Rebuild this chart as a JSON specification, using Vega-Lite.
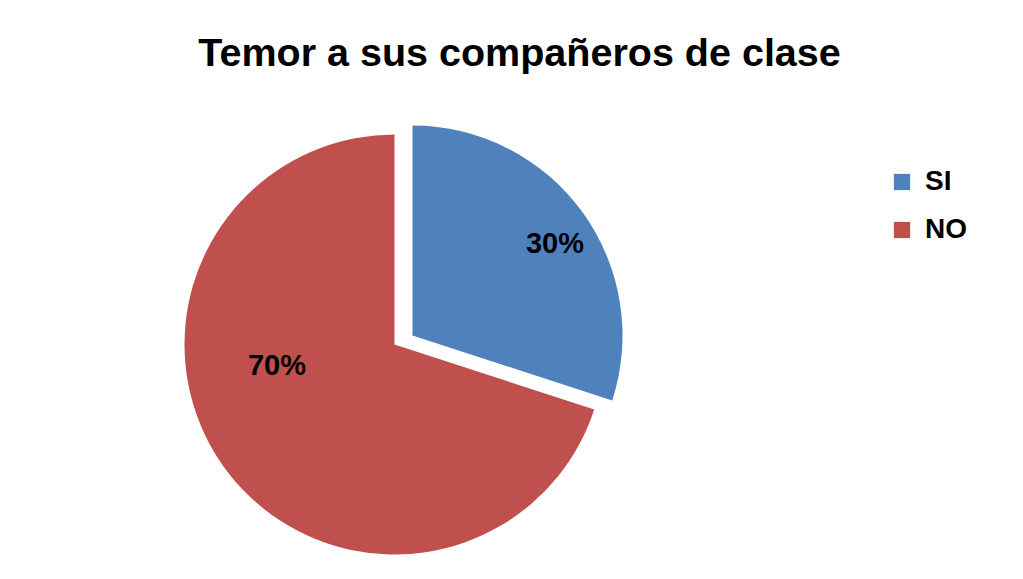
{
  "$schema": "https://vega.github.io/schema/vega-lite/v6.json",
  "autosize": {"type": "fit", "contains": "padding"},
  "width": 1023,
  "height": 579,
  "padding": {"left": 15, "right": 233, "top": 33, "bottom": 10},
  "background": "white",
  "title": {
    "text": "Temor a sus compañeros de clase",
    "font": "Liberation Sans",
    "fontSize": 39.5,
    "fontWeight": "bold",
    "color": "black",
    "anchor": "middle",
    "dx": 117,
    "offset": 36
  },
  "data": {
    "values": [
      {"categoria": "SI", "valor": 30, "etiqueta": "30%"},
      {"categoria": "NO", "valor": 70, "etiqueta": "70%"}
    ]
  },
  "layer": [
    {
      "transform": [
        {"stack": "valor", "groupby": [], "sort": [{"field": "valor", "order": "ascending"}], "as": ["v0", "v1"]},
        {"filter": "datum.categoria === 'SI'"}
      ],
      "mark": {"type": "arc", "outerRadius": 210, "xOffset": 10, "yOffset": -4},
      "encoding": {
        "theta": {"field": "v0", "type": "quantitative", "scale": {"domain": [0, 100]}},
        "theta2": {"field": "v1"},
        "color": {
          "field": "categoria",
          "type": "nominal",
          "scale": {"domain": ["SI", "NO"], "range": ["#4F81BD", "#C0504D"]},
          "legend": {
            "title": null,
            "orient": "none",
            "legendX": 873,
            "legendY": 58,
            "symbolType": "square",
            "symbolSize": 300,
            "symbolStrokeColor": "white",
            "symbolStrokeWidth": 1,
            "labelFont": "Liberation Sans",
            "labelFontSize": 28,
            "labelFontWeight": "bold",
            "labelColor": "black",
            "rowPadding": 20,
            "labelOffset": 9
          }
        }
      }
    },
    {
      "transform": [
        {"stack": "valor", "groupby": [], "sort": [{"field": "valor", "order": "ascending"}], "as": ["v0", "v1"]},
        {"filter": "datum.categoria === 'NO'"}
      ],
      "mark": {"type": "arc", "outerRadius": 210, "xOffset": -8, "yOffset": 5},
      "encoding": {
        "theta": {"field": "v0", "type": "quantitative", "scale": {"domain": [0, 100]}},
        "theta2": {"field": "v1"},
        "color": {"field": "categoria", "type": "nominal"}
      }
    },
    {
      "mark": {"type": "text", "radius": 165, "xOffset": 19, "yOffset": 1, "font": "Liberation Sans", "fontSize": 29, "fontWeight": "bold", "color": "black"},
      "encoding": {
        "theta": {"field": "valor", "type": "quantitative", "stack": true, "sort": "ascending"},
        "order": {"field": "valor", "type": "quantitative", "sort": "ascending"},
        "text": {"field": "etiqueta", "type": "nominal"},
        "opacity": {"condition": {"test": "datum.categoria === 'SI'", "value": 1}, "value": 0}
      }
    },
    {
      "mark": {"type": "text", "radius": 128, "xOffset": -22, "yOffset": -49, "font": "Liberation Sans", "fontSize": 29, "fontWeight": "bold", "color": "black"},
      "encoding": {
        "theta": {"field": "valor", "type": "quantitative", "stack": true, "sort": "ascending"},
        "order": {"field": "valor", "type": "quantitative", "sort": "ascending"},
        "text": {"field": "etiqueta", "type": "nominal"},
        "opacity": {"condition": {"test": "datum.categoria === 'NO'", "value": 1}, "value": 0}
      }
    }
  ],
  "resolve": {"scale": {"theta": "independent"}},
  "config": {"view": {"stroke": null}}
}
